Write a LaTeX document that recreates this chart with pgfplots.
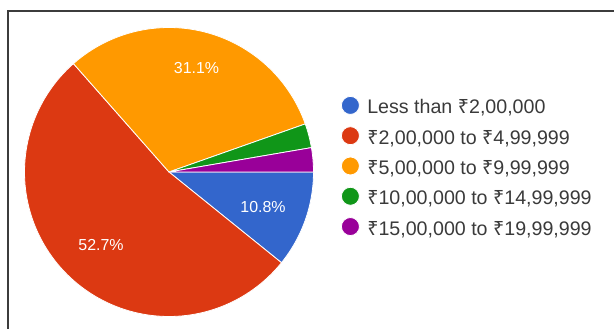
\documentclass[border=0pt]{standalone}
\usepackage{pgfplots}
\usepackage{pgfplotstable}
\pgfplotsset{compat=1.18}
\usepackage{fontspec}
\setmainfont{Liberation Sans}
\newfontfamily\rsfont{Noto Sans}
\newcommand{\rupee}{{\rsfont ₹}}
\definecolor{cBlue}{HTML}{3366CC}
\definecolor{cRed}{HTML}{DC3912}
\definecolor{cOrange}{HTML}{FF9900}
\definecolor{cGreen}{HTML}{109618}
\definecolor{cPurple}{HTML}{990099}
\definecolor{txt}{HTML}{3A3A3A}
\definecolor{frame}{HTML}{3C3C3C}

\pgfplotstableread{
value
10.8
52.7
31.1
2.7
2.7
}\piedata

\begin{document}%
\pgfplotstablegetelem{0}{value}\of\piedata\let\vA\pgfplotsretval%
\pgfplotstablegetelem{1}{value}\of\piedata\let\vB\pgfplotsretval%
\pgfplotstablegetelem{2}{value}\of\piedata\let\vC\pgfplotsretval%
\pgfplotstablegetelem{3}{value}\of\piedata\let\vD\pgfplotsretval%
\pgfplotstablegetelem{4}{value}\of\piedata\let\vE\pgfplotsretval%
\pgfmathsetmacro\aA{0}%
\pgfmathsetmacro\aB{\aA+3.6*\vA}%
\pgfmathsetmacro\aC{\aB+3.6*\vB}%
\pgfmathsetmacro\aD{\aC+3.6*\vC}%
\pgfmathsetmacro\aE{\aD+3.6*\vD}%
\pgfmathsetmacro\aF{\aE+3.6*\vE}%
\def\cx{169}%
\def\cy{172}%
\def\rr{144.5}%
\begin{tikzpicture}
\begin{axis}[
  width=614bp, height=329bp, scale only axis,
  xmin=0, xmax=614, ymin=0, ymax=329, y dir=reverse,
  hide axis, clip=false,
  legend image code/.code={\fill (0bp,0.35em) circle (9bp);},
  legend style={at={(axis cs:341,96)}, anchor=north west, draw=none, fill=none,
    inner sep=0pt, outer sep=0pt, row sep=8.4bp,
    /tikz/column sep=7.5bp,
    font=\fontsize{19.7}{22}\selectfont, text=txt,
    nodes={inner sep=0pt, text height=14bp, text depth=4bp}},
  legend cell align=left,
]
\addplot[fill=cBlue, draw=white, line width=0.8bp, domain=\aA:\aB, samples=30, variable=\t]
  ({\cx+\rr*cos(\t)},{\cy+\rr*sin(\t)}) -- (axis cs:\cx,\cy) -- cycle;
\addlegendentry{Less than \rupee2,00,000}
\addplot[fill=cRed, draw=white, line width=0.8bp, domain=\aB:\aC, samples=100, variable=\t]
  ({\cx+\rr*cos(\t)},{\cy+\rr*sin(\t)}) -- (axis cs:\cx,\cy) -- cycle;
\addlegendentry{\rupee2,00,000 to \rupee4,99,999}
\addplot[fill=cOrange, draw=white, line width=0.8bp, domain=\aC:\aD, samples=60, variable=\t]
  ({\cx+\rr*cos(\t)},{\cy+\rr*sin(\t)}) -- (axis cs:\cx,\cy) -- cycle;
\addlegendentry{\rupee5,00,000 to \rupee9,99,999}
\addplot[fill=cGreen, draw=white, line width=0.8bp, domain=\aD:\aE, samples=10, variable=\t]
  ({\cx+\rr*cos(\t)},{\cy+\rr*sin(\t)}) -- (axis cs:\cx,\cy) -- cycle;
\addlegendentry{\rupee10,00,000 to \rupee14,99,999}
\addplot[fill=cPurple, draw=white, line width=0.8bp, domain=\aE:\aF, samples=10, variable=\t]
  ({\cx+\rr*cos(\t)},{\cy+\rr*sin(\t)}) -- (axis cs:\cx,\cy) -- cycle;
\addlegendentry{\rupee15,00,000 to \rupee19,99,999}

\node[text=white, font=\fontsize{16}{19}\selectfont] at (axis cs:196.5,68) {31.1\%};
\node[text=white, font=\fontsize{16}{19}\selectfont] at (axis cs:263,207) {10.8\%};
\node[text=white, font=\fontsize{16}{19}\selectfont] at (axis cs:101,245) {52.7\%};

\draw[frame, line width=2bp] (axis cs:8,329) -- (axis cs:8,11) -- (axis cs:614,11);
\coordinate (BL) at (axis cs:0,329);
\coordinate (TR) at (axis cs:614,0);
\end{axis}
\pgfresetboundingbox
\useasboundingbox (BL) rectangle (TR);
\end{tikzpicture}%
\end{document}
